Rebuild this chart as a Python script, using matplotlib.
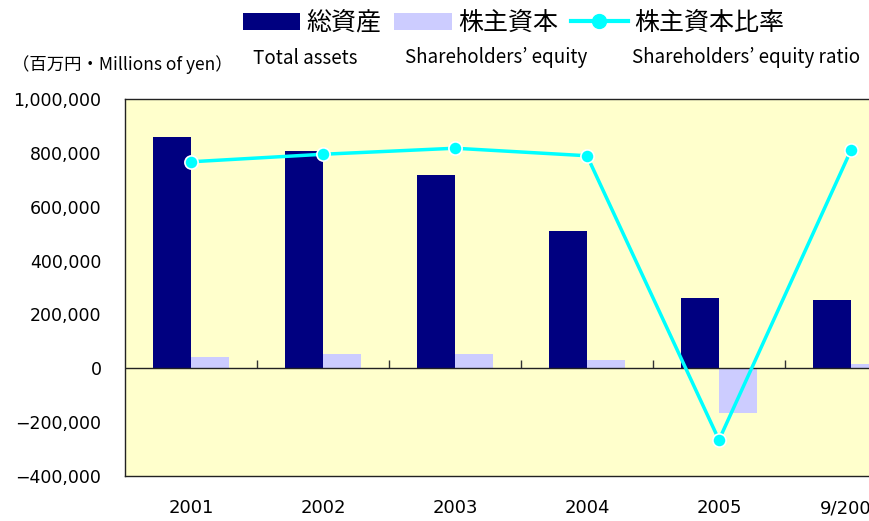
import matplotlib
matplotlib.use('Agg')
import matplotlib.pyplot as plt
import numpy as np
from matplotlib.patches import Patch
from matplotlib.lines import Line2D

plt.rcParams['font.family'] = ['Noto Sans CJK JP', 'DejaVu Sans']

# values (millions of yen, ratio in %)
years = ['2001', '2002', '2003', '2004', '2005', '9/2006']
total_assets = [860000, 807000, 718000, 509000, 262000, 255000]
equity = [40000, 53000, 53000, 31000, -166000, 16000]
equity_ratio = [3.4, 5.4, 7.0, 5.0, -70.5, 6.5]

labels_jp = ['総資産', '株主資本', '株主資本比率']
labels_en = ['Total assets', 'Shareholders’ equity', 'Shareholders’ equity ratio']

navy = '#000080'
lilac = '#CCCCFF'
cyan = '#00FFFF'

W, H = 870, 521
fig = plt.figure(figsize=(W / 100, H / 100), dpi=100)
# plot area runs past the right edge of the picture, like the original
ax = fig.add_axes([125 / W, 1 - 475.7 / H, 792 / W, 376.4 / H])
ax.set_facecolor('#FFFFCC')

x = np.arange(len(years))
bw = 0.288
ax.bar(x - bw / 2, total_assets, bw, color=navy, zorder=2)
ax.bar(x + bw / 2, equity, bw, color=lilac, zorder=2)

ymin, ymax = -400000, 1000000
ax.set_ylim(ymin, ymax)
ax.set_xlim(-0.5, len(years) - 0.5)
yt = np.arange(ymin, ymax + 1, 200000)
ax.set_yticks(yt)
ax.set_yticklabels([('−' if v < 0 else '') + f'{abs(v):,}' for v in yt])
ax.tick_params(axis='y', length=0, pad=17, labelsize=12.5,
               labelfontfamily='DejaVu Sans')
ax.set_xticks(x)
ax.set_xticklabels(years)
ax.tick_params(axis='x', length=0, pad=17, labelsize=13,
               labelfontfamily='DejaVu Sans')

for s in ax.spines.values():
    s.set_color('#222222')
    s.set_linewidth(1)

# category axis crossing at zero with ticks between the groups
ax.axhline(0, color='#222222', lw=1, zorder=3)
zero_pos = (0 - ymin) / (ymax - ymin)
sec = ax.secondary_xaxis(zero_pos)
sec.set_xticks(x[:-1] + 0.5)
sec.tick_params(direction='in', length=6, width=1, color='#333333',
                labelbottom=False, labeltop=False)
sec.spines['bottom'].set_visible(False)

# ratio line on its own (off-picture) scale
ax2 = ax.twinx()
ax2.set_ylim(-80, 20)
ax2.plot(x, equity_ratio, color=cyan, lw=2.5, marker='o', ms=9.5,
         mfc=cyan, mec='white', mew=1.2, zorder=5)
ax2.set_yticks([])
for s in ax2.spines.values():
    s.set_visible(False)

# legend, Japanese row
handles = [Patch(facecolor=navy), Patch(facecolor=lilac),
           Line2D([0], [0], color=cyan, lw=3, marker='o', ms=10, mfc=cyan, mec=cyan)]
fig.legend(handles, labels_jp, loc='center left',
           bbox_to_anchor=(243 / W, 1 - 23 / H), bbox_transform=fig.transFigure,
           ncol=3, frameon=False, fontsize=18, borderpad=0, borderaxespad=0,
           handlelength=2.3, handleheight=0.7, handletextpad=0.25,
           columnspacing=0.5)

# English row under the legend
for xp, t in zip([253, 405, 632], labels_en):
    fig.text(xp / W, 1 - 58 / H, t, ha='left', va='center', fontsize=13.5)

fig.text(122 / W, 1 - 65 / H, '（百万円・Millions of yen）', ha='center',
         va='center', fontsize=12.5)

fig.savefig('out.png', dpi=100)
